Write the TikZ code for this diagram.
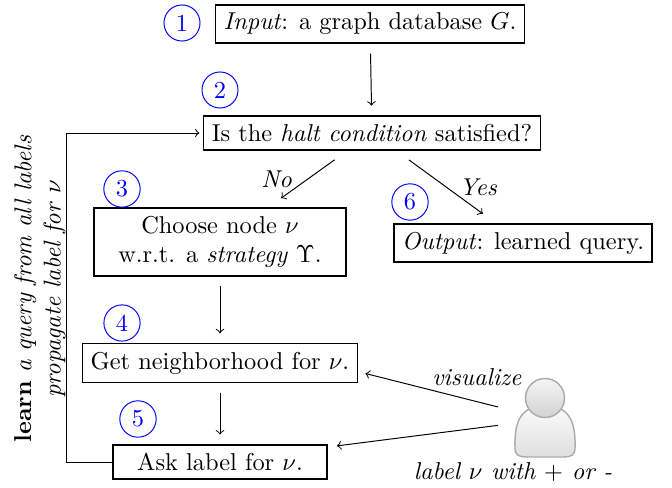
\documentclass[tikz,border=0pt]{standalone}
\usetikzlibrary{positioning}

\begin{document}
\begin{tikzpicture}[x=0.41pt,y=-0.41pt,
  box/.style={draw,line width=0.6pt},
  widebox/.style={box,align=center,inner xsep=10pt},
  stepnum/.style={circle,draw=blue,text=blue,inner sep=2.3pt},
  flow/.style={->,shorten <=4pt,shorten >=4pt},
  user/.style={minimum width=38pt,minimum height=32pt}]
\useasboundingbox (0,0) rectangle (672,488);

\node[box] (in) at (370,24) {\emph{Input}: a graph database $G$.};
\node[box] (halt) at (372,133) {Is the \emph{halt condition} satisfied?};
\node[widebox] (choose) at (220,242) {Choose node $\nu$\\ w.r.t. a \emph{strategy} $\Upsilon$.};
\node[box] (out) at (523,243) {\emph{Output}: learned query.};
\node[box] (nbh) at (220,363) {Get neighborhood for $\nu$.};
\node[widebox] (ask) at (220,462) {Ask label for $\nu$.};

\def\steps{1/{182,23},2/{220,90},3/{122,189},4/{122,323},5/{138,419},6/{410,202}}
\foreach \i / \p in \steps
  \node [stepnum] (c\i) at (\p) {\i};

\node[rotate=90,align=center] (learn) at (40,289) {\textbf{learn} \emph{a query from all labels}\\ \emph{propagate label for} $\nu$};

\node[user] (user) at (545,418) {};
\begin{scope}[shift={(user.center)}]
\draw[draw=gray!65,line width=0.6pt,top color=gray!3,bottom color=gray!25]
  (-30,30) .. controls (-31,0) and (-22,-12) .. (0,-12)
  .. controls (22,-12) and (31,0) .. (30,30)
  .. controls (30,37) and (26,39) .. (19,39) -- (-19,39)
  .. controls (-26,39) and (-30,37) .. (-30,30) -- cycle;
\draw[draw=gray!65,line width=0.6pt,top color=gray!8,bottom color=gray!35]
  (0,-20) circle [radius=8pt];
\end{scope}
\node (how) at (513,472) {\emph{label $\nu$ with $+$ or -}};

\draw[flow] (in) -- (halt);
\draw[->,shorten <=6.5pt,shorten >=6.5pt] (halt) -- node[left=3pt] {\emph{No}} (choose);
\draw[->,shorten <=6.5pt,shorten >=6.5pt] (halt) -- node[right=2pt] {\emph{Yes}} (out);
\draw[flow] (choose) -- (nbh);
\draw[flow] (nbh) -- (ask);
\draw[->,shorten >=1.5pt] (ask.west) -- ++(-46,0) |- (halt.west);
\draw[->] ([yshift=4.5pt]user.west) -- node[pos=0.16,above=3pt] {\emph{visualize}} ([xshift=3pt,yshift=-4.3pt]nbh.east);
\draw[->] ([yshift=-3pt]user.west) -- ([xshift=3.7pt,yshift=6.6pt]ask.east);

\end{tikzpicture}
\end{document}
